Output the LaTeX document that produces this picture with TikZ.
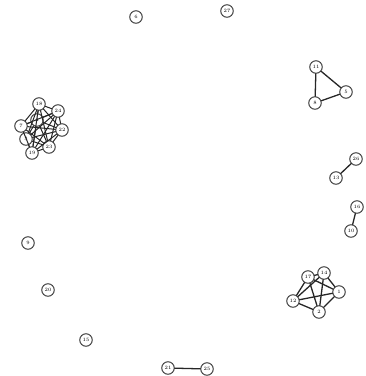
\documentclass[tikz,border=0pt]{standalone}
\usepackage{tikz}
\usetikzlibrary{arrows.meta}
\usepackage{xcolor}

\begin{document}
\begin{tikzpicture}[x=1bp,y=-1bp,line cap=round,
  vtx/.style={circle,draw=black!75,line width=1pt,fill=white,inner sep=0pt,minimum size=12.5bp,font=\fontsize{5}{5}\selectfont},
  lnk/.style={black!85,line width=1.3pt}]
\useasboundingbox (0,0) rectangle (366,376);
% isolated vertices
\node[vtx] (v6) at (136,17) {6};
\node[vtx] (v27) at (227,11) {27};
\node[vtx] (v9) at (28,243) {9};
\node[vtx] (v20) at (48,290) {20};
\node[vtx] (v15) at (86,340) {15};
% triangle
\node[vtx] (v11) at (316,67) {11};
\node[vtx] (v5) at (346,92) {5};
\node[vtx] (v8) at (315,103) {8};
% pairs
\node[vtx] (v26) at (356,159) {26};
\node[vtx] (v13) at (336,178) {13};
\node[vtx] (v16) at (357,207) {16};
\node[vtx] (v10) at (351,231) {10};
\node[vtx] (v21) at (168,368) {21};
\node[vtx] (v25) at (207,369) {25};
% right cluster
\node[vtx] (v17) at (308,277) {17};
\node[vtx] (v14) at (324,273) {14};
\node[vtx] (v1) at (339,292) {1};
\node[vtx] (v12) at (293,301) {12};
\node[vtx] (v2) at (319,312) {2};
% left cluster
\node[vtx] (v18) at (39,104) {18};
\node[vtx] (v24) at (58,111) {24};
\node[vtx] (v4) at (37,120) {4};
\node[vtx] (v7) at (21,126) {7};
\node[vtx] (v22) at (62,130) {22};
\node[vtx] (v3) at (26,139) {3};
\node[vtx] (v23) at (49,147) {23};
\node[vtx] (v19) at (32,153) {19};
% links
\draw[lnk] (v11) -- (v5);
\draw[lnk] (v11) -- (v8);
\draw[lnk] (v8) -- (v5);
\draw[lnk] (v26) -- (v13);
\draw[lnk] (v16) -- (v10);
\draw[lnk] (v21) -- (v25);
\foreach \a/\b in {17/14,17/1,17/12,17/2,14/1,14/12,14/2,1/12,1/2,12/2}
  \draw[lnk] (v\a) -- (v\b);
\foreach \a/\b in {18/24,18/4,18/7,18/22,18/3,18/23,18/19,24/4,24/7,24/22,24/3,24/23,24/19,
  4/7,4/22,4/3,4/23,4/19,7/22,7/3,7/23,7/19,22/3,22/23,22/19,3/23,3/19,23/19}
  \draw[lnk,line width=1pt] (v\a) -- (v\b);
\end{tikzpicture}
\end{document}
